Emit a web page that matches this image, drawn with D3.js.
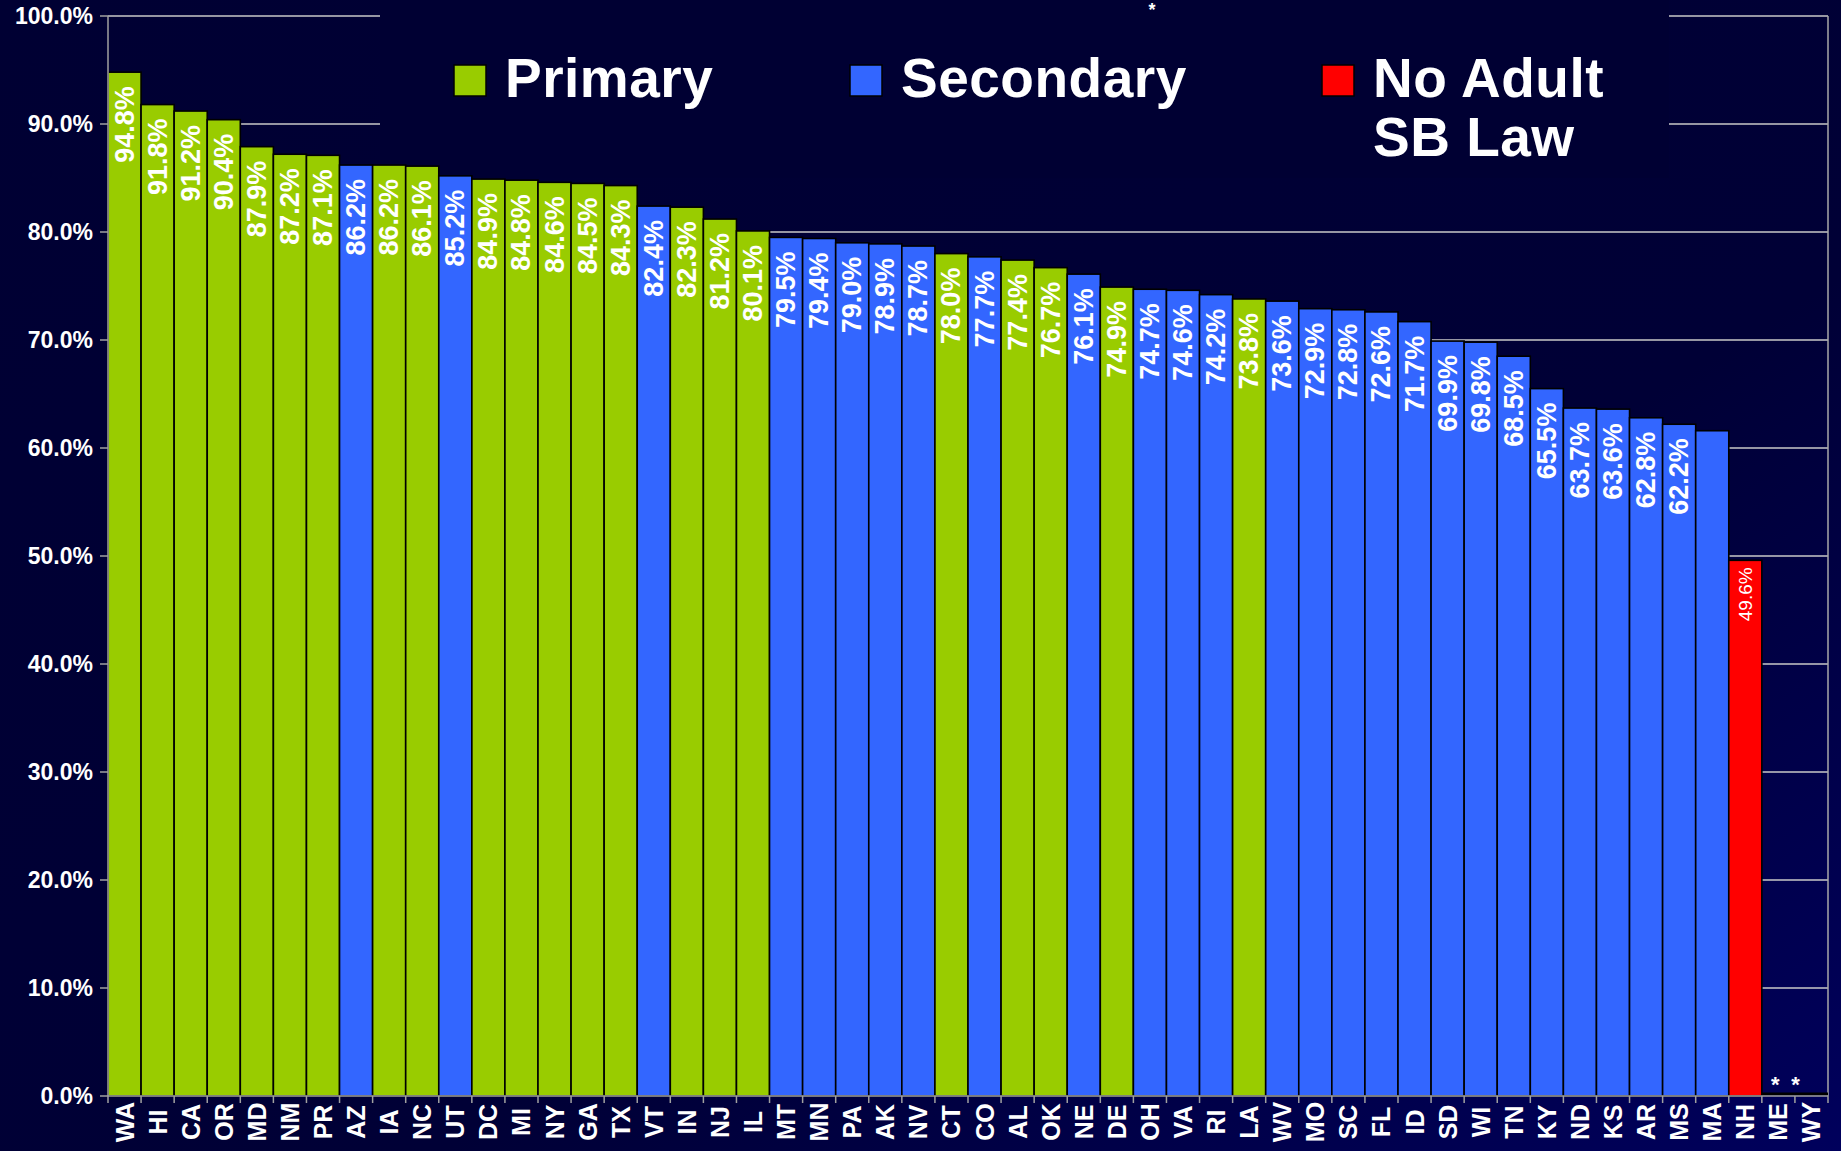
<!DOCTYPE html>
<html><head><meta charset="utf-8">
<script src="https://cdn.jsdelivr.net/npm/d3@7"></script>
<style>
html,body{margin:0;padding:0;background:#000033;}
svg{display:block;font-family:"Liberation Sans",Arial,sans-serif;}
</style></head>
<body>
<svg id="chart" width="1841" height="1151"></svg>
<script>
const states = ["WA","HI","CA","OR","MD","NM","PR","AZ","IA","NC","UT","DC","MI","NY","GA","TX","VT","IN","NJ","IL","MT","MN","PA","AK","NV","CT","CO","AL","OK","NE","DE","OH","VA","RI","LA","WV","MO","SC","FL","ID","SD","WI","TN","KY","ND","KS","AR","MS","MA","NH","ME","WY"];
const values = [94.8,91.8,91.2,90.4,87.9,87.2,87.1,86.2,86.2,86.1,85.2,84.9,84.8,84.6,84.5,84.3,82.4,82.3,81.2,80.1,79.5,79.4,79.0,78.9,78.7,78.0,77.7,77.4,76.7,76.1,74.9,74.7,74.6,74.2,73.8,73.6,72.9,72.8,72.6,71.7,69.9,69.8,68.5,65.5,63.7,63.6,62.8,62.2,61.6,49.6,null,null];
const lawTypes = ["P","P","P","P","P","P","P","S","P","P","S","P","P","P","P","P","S","P","P","P","S","S","S","S","S","P","S","P","P","S","P","S","S","S","P","S","S","S","S","S","S","S","S","S","S","S","S","S","S","N",null,null];
const showLabel = states.map(s => s !== "MA");
const yTicks = [0,10,20,30,40,50,60,70,80,90,100];
const legendItems = [{key:"P", lines:["Primary"]},{key:"S", lines:["Secondary"]},{key:"N", lines:["No Adult","SB Law"]}];
const colors = {P:"#99CC00", S:"#3366FF", N:"#FF0000"};

const svg = d3.select("#chart");
const W = 1841, H = 1151;
const m = {left:108, right:13, top:16, bottom:55};
const plotW = W - m.left - m.right, plotH = H - m.top - m.bottom;

const defs = svg.append("defs");
const g1 = defs.append("linearGradient").attr("id","bg").attr("x1",0).attr("y1",0).attr("x2",1).attr("y2",1);
g1.append("stop").attr("offset","0").attr("stop-color","#000033");
g1.append("stop").attr("offset","0.62").attr("stop-color","#000036");
g1.append("stop").attr("offset","1").attr("stop-color","#00005c");
svg.append("rect").attr("width",W).attr("height",H).attr("fill","url(#bg)");

const x = d3.scaleBand().domain(states).range([m.left, m.left+plotW]).padding(0);
const y = d3.scaleLinear().domain([0,100]).range([m.top+plotH, m.top]);
const bw = x.bandwidth();

// gridlines
svg.append("g").selectAll("line").data(yTicks.filter(t=>t>0)).join("line")
  .attr("x1", m.left).attr("x2", m.left+plotW)
  .attr("y1", d=>y(d)).attr("y2", d=>y(d))
  .attr("stroke","#c8c8c8").attr("stroke-width",1.5);
// right border
svg.append("line").attr("x1",m.left+plotW).attr("x2",m.left+plotW).attr("y1",y(100)).attr("y2",y(0))
  .attr("stroke","#a8a8a8").attr("stroke-width",1.5);

// legend box (covers gridlines)
const lgX0 = 380, lgX1 = 1669;
svg.append("rect").attr("x",lgX0).attr("y",0).attr("width",lgX1-lgX0).attr("height",178).attr("fill","#000033");

// bars
const data = states.map((s,i)=>({s, v:values[i], t:lawTypes[i], lab:showLabel[i]}));
svg.append("g").selectAll("rect").data(data.filter(d=>d.v!=null)).join("rect")
  .attr("x", d=>x(d.s)).attr("y", d=>y(d.v))
  .attr("width", bw).attr("height", d=>y(0)-y(d.v))
  .attr("fill", d=>colors[d.t]).attr("stroke","#000").attr("stroke-width",1.6);
// missing-data baseline
const missing = data.filter(d=>d.v==null);
svg.append("g").selectAll("line").data(missing).join("line")
  .attr("x1", d=>x(d.s)).attr("x2", d=>x(d.s)+bw)
  .attr("y1", y(0)-2).attr("y2", y(0)-2)
  .attr("stroke","#000").attr("stroke-width",3);
const astOff = {ME:-3, WY:-16};
svg.append("g").selectAll("text").data(missing).join("text")
  .attr("x", d=>x(d.s)+bw/2+(astOff[d.s]||0)).attr("y", y(0)-4)
  .attr("text-anchor","middle").attr("fill","#fff").attr("font-weight","bold").attr("font-size",22)
  .text("*");

// value labels
svg.append("g").selectAll("text").data(data.filter(d=>d.v!=null && d.lab)).join("text")
  .attr("transform", d=>{
    const small = d.t==="N";
    return `translate(${x(d.s)+bw/2},${y(d.v)+(small?7:14)}) rotate(-90)`;
  })
  .attr("text-anchor","end").attr("dominant-baseline","central")
  .attr("fill","#fff").attr("font-weight", d=>d.t==="N"?"normal":"bold")
  .attr("font-size", d=>d.t==="N"?19:27)
  .text(d=>d.v.toFixed(1)+"%");

// axes
const axisColor = "#a0a0a0";
svg.append("line").attr("x1",m.left).attr("x2",m.left).attr("y1",y(100)).attr("y2",y(0)).attr("stroke",axisColor).attr("stroke-width",1.5);
svg.append("line").attr("x1",m.left).attr("x2",m.left+plotW).attr("y1",y(0)).attr("y2",y(0)).attr("stroke",axisColor).attr("stroke-width",1.5);
svg.append("g").selectAll("line").data(yTicks).join("line")
  .attr("x1",m.left-8).attr("x2",m.left).attr("y1",d=>y(d)).attr("y2",d=>y(d))
  .attr("stroke",axisColor).attr("stroke-width",1.5);
svg.append("g").selectAll("text").data(yTicks).join("text")
  .attr("x", m.left-15).attr("y", d=>y(d)).attr("dy","0.36em")
  .attr("text-anchor","end").attr("fill","#fff").attr("font-weight","bold").attr("font-size",23)
  .text(d=>d.toFixed(1)+"%");
const xb = states.map(s=>x(s)).concat([m.left+plotW]);
svg.append("g").selectAll("line").data(xb).join("line")
  .attr("x1",d=>d).attr("x2",d=>d).attr("y1",y(0)).attr("y2",y(0)+7)
  .attr("stroke",axisColor).attr("stroke-width",1.5);
svg.append("g").selectAll("text").data(states).join("text")
  .attr("transform", d=>`translate(${x(d)+bw/2},1122) rotate(-90)`)
  .attr("text-anchor","middle").attr("dominant-baseline","central")
  .attr("fill","#fff").attr("font-weight","bold").attr("font-size",25)
  .text(d=>d);

// legend
const legendX = [454, 850, 1322];
const lg = svg.append("g").selectAll("g").data(legendItems).join("g")
  .attr("transform",(d,i)=>`translate(${legendX[i]},0)`);
lg.append("rect").attr("x",0).attr("y",65).attr("width",32).attr("height",31)
  .attr("fill",d=>colors[d.key]).attr("stroke","#000").attr("stroke-width",1.5);
lg.each(function(d){
  d3.select(this).selectAll("text").data(d.lines).join("text")
    .attr("x",51).attr("y",(l,j)=>97+j*59)
    .attr("fill","#fff").attr("font-weight","bold").attr("font-size",55)
    .attr("letter-spacing",0.5)
    .text(l=>l);
});
// top asterisk annotation
svg.append("text").attr("x",1152).attr("y",16).attr("text-anchor","middle")
  .attr("fill","#fff").attr("font-weight","bold").attr("font-size",18).text("*");
</script>
</body></html>
